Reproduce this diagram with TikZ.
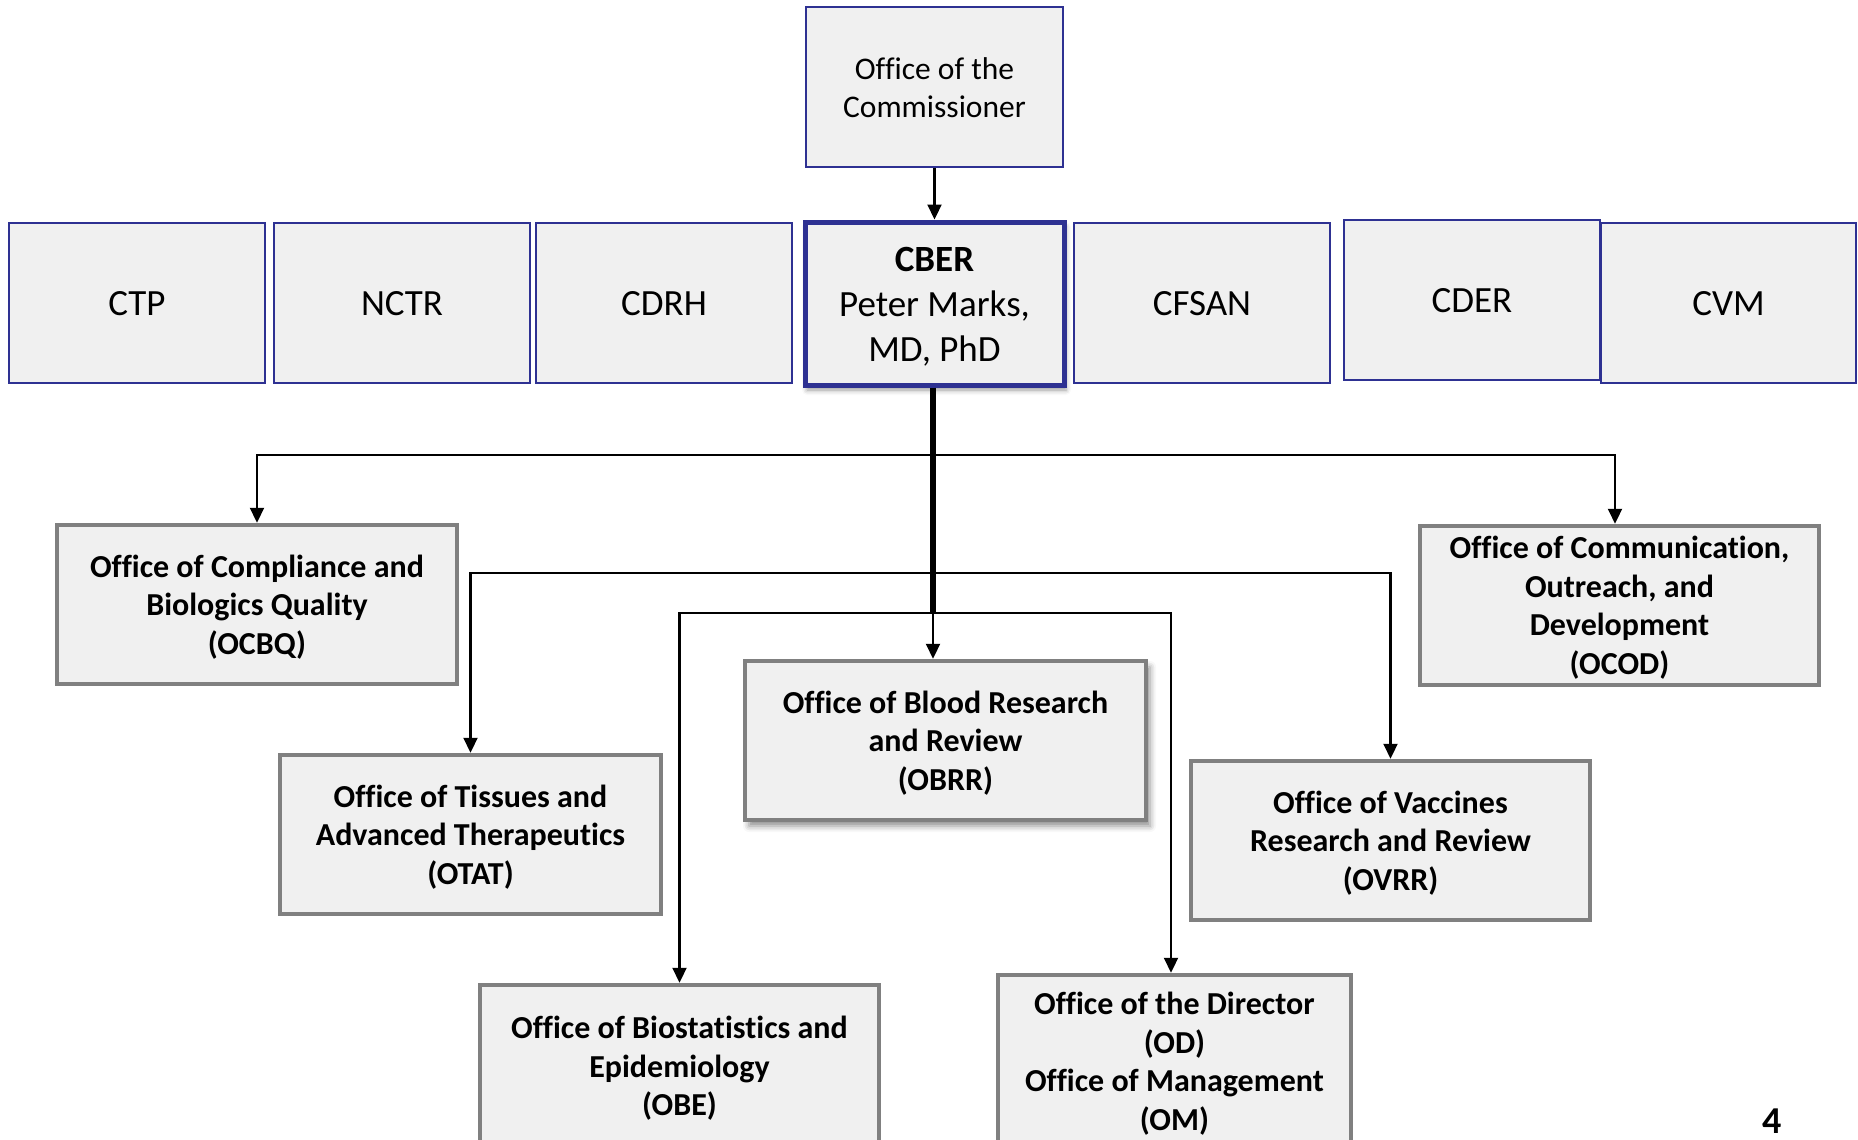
\documentclass[tikz,border=0pt]{standalone}
\usepackage{fontspec}
\setmainfont{Carlito}[Ligatures=NoCommon]
\usetikzlibrary{arrows.meta,shadows.blur}
\definecolor{navy}{HTML}{2E3192}
\definecolor{boxfill}{HTML}{F0F0F0}
\definecolor{boxgray}{HTML}{808080}
\newcommand\tx[1]{\raisebox{-3.5pt}[\height][\depth]{\begin{tabular}{@{}c@{}}#1\end{tabular}}}
\tikzset{
  topbox/.style={draw=navy, line width=1.5pt, fill=boxfill, inner sep=0pt,
    minimum width=256pt, minimum height=160pt, font=\fontsize{37}{45}\selectfont},
  cberbox/.style={topbox, line width=5pt, minimum width=259pt, minimum height=163pt,
    blur shadow={shadow xshift=2pt, shadow yshift=-5pt, shadow blur radius=5pt, shadow opacity=40}},
  commbox/.style={topbox, minimum width=257pt, minimum height=160pt, font=\fontsize{31.5}{38}\selectfont},
  offbox/.style={draw=boxgray, line width=4.5pt, fill=boxfill, inner sep=0pt,
    minimum height=159pt, font=\bfseries\fontsize{32}{38.5}\selectfont},
  shadowed/.style={blur shadow={shadow xshift=4pt, shadow yshift=-6pt, shadow blur radius=6pt, shadow opacity=45}},
  conn/.style={line width=2.2pt},
  stem/.style={line width=6pt},
  arr/.style={conn, -{Triangle[length=15pt,width=14pt]}},
}
\begin{document}
\begin{tikzpicture}[x=1pt,y=-1pt]
\path[use as bounding box] (0,0) rectangle (1858,1140);
\clip (0,0) rectangle (1858,1140);

% top
\node[commbox] (comm) at (934.5,87) {\tx{Office of the\\Commissioner}};

% centre row
\node[topbox] (ctp)   at (137,303)   {\tx{CTP}};
\node[topbox] (nctr)  at (402,303)   {\tx{NCTR}};
\node[topbox] (cdrh)  at (664,303)   {\tx{CDRH}};
\node[cberbox] (cber) at (934.5,303.5) {\tx{\textbf{CBER}\\Peter Marks,\\MD, PhD}};
\node[topbox] (cfsan) at (1202,303)  {\tx{CFSAN}};
\node[topbox] (cder)  at (1472,300)  {\tx{CDER}};
\node[topbox, minimum width=255pt] (cvm) at (1728.5,303) {\tx{CVM}};

% offices
\node[offbox, minimum width=400pt] (ocbq) at (257,604.5) {\tx{Office of Compliance and\\Biologics Quality\\(OCBQ)}};
\node[offbox, minimum width=399pt] (ocod) at (1619.5,605.5) {\tx{Office of Communication,\\Outreach, and\\Development\\(OCOD)}};
\node[offbox, minimum width=381pt] (otat) at (470.5,834.5) {\tx{Office of Tissues and\\Advanced Therapeutics\\(OTAT)}};
\node[offbox, shadowed, minimum width=401pt] (obrr) at (945.5,740.5) {\tx{Office of Blood Research\\and Review\\(OBRR)}};
\node[offbox, minimum width=399pt] (ovrr) at (1390.5,840.5) {\tx{Office of Vaccines\\Research and Review\\(OVRR)}};
\node[offbox, minimum width=399pt, minimum height=162pt] (obe) at (679.5,1066) {\tx{Office of Biostatistics and\\Epidemiology\\(OBE)}};
\node[offbox, minimum width=353pt, minimum height=173pt] (od) at (1174.5,1061.5) {\tx{Office of the Director\\(OD)\\Office of Management\\(OM)}};

\node[font=\bfseries\fontsize{38}{40}\selectfont, inner sep=1pt] (pg) at (1772,1121) {4};

% connectors
\coordinate (j1) at (933,455);
\coordinate (j2) at (933,573);
\coordinate (j3) at (933,613);

\draw[arr] (comm.south) -- (cber.north);
\draw[stem] (cber.south -| j3) -- (j3);
\draw[arr] (j1) -| (ocbq.north);
\draw[arr] (j1) -| ([xshift=-4.5pt]ocod.north);
\draw[arr] (j2) -| (otat.north);
\draw[arr] (j2) -| (ovrr.north);
\draw[arr] (j3) -| (obe.north);
\draw[arr] (j3) -| ([xshift=-3.5pt]od.north);
\draw[arr] (j3) -- (j3 |- obrr.north);
\end{tikzpicture}
\end{document}
